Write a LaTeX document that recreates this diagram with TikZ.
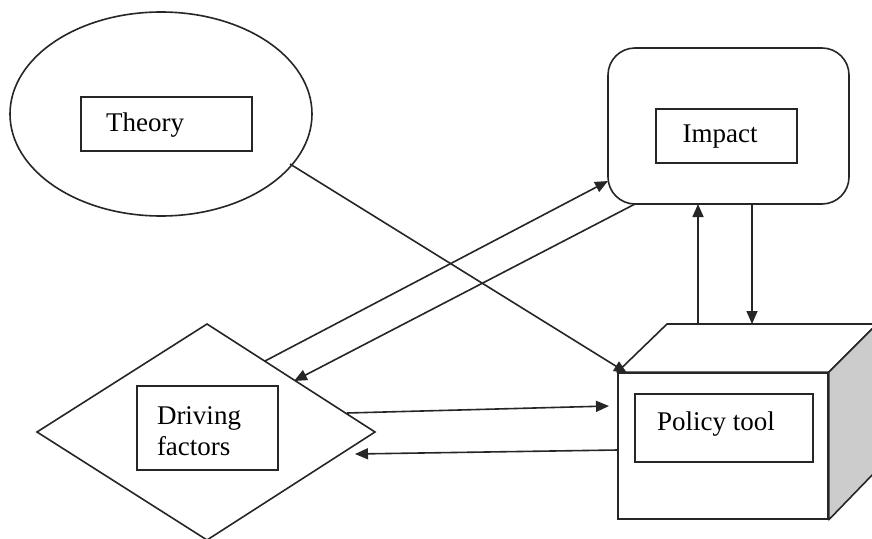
\documentclass[tikz,border=0pt]{standalone}
\usepackage{fontspec}
\setmainfont{Liberation Serif}
\usetikzlibrary{shapes.geometric,arrows.meta}
\begin{document}
\begin{tikzpicture}[x=1pt,y=-1pt,
  outline/.style={draw=black!85,line width=1.6pt,inner sep=0pt},
  ibox/.style={draw=black!85,line width=1.6pt,inner sep=0pt,fill=white},
  lbl/.style={font=\fontsize{27}{31}\selectfont,inner sep=0pt,text=black},
  conn/.style={draw=black!85,line width=1.6pt,-{Triangle[length=13pt,width=11pt]}},
  plain/.style={draw=black!85,line width=1.6pt}]
\useasboundingbox (0,0) rectangle (872,538);
\fill[white] (0,0) rectangle (872,538);
% Theory
\node[outline,ellipse,minimum width=302pt,minimum height=204pt] (theory) at (161,114) {};
\node[ibox,minimum width=171pt,minimum height=54pt] (theorybox) at (166.5,124) {};
\node[lbl,anchor=west] (theorytxt) at (106,125) {Theory};
% Impact
\node[outline,rectangle,rounded corners=27pt,minimum width=241pt,minimum height=156pt] (impact) at (728.5,126) {};
\node[ibox,minimum width=141pt,minimum height=54pt] (impactbox) at (726.5,136) {};
\node[lbl] (impacttxt) at (720,137) {Impact};
% Policy tool cube
\node[outline,rectangle,minimum width=210pt,minimum height=146pt,fill=white] (policy) at (723,446) {};
\draw[plain,fill=white,line join=round] (policy.north west) -- (667,324) coordinate (ptl) -- (877,324) coordinate (ptr) -- (policy.north east) -- cycle;
\draw[plain,fill=black!20,line join=round] (policy.north east) -- (ptr) -- (877,470) coordinate (pbr) -- (policy.south east) -- cycle;
\node[ibox,minimum width=178pt,minimum height=68pt] (policybox) at (724,428) {};
\node[lbl] (policytxt) at (716,424) {Policy tool};
% Driving factors
\draw[plain,line join=miter] (207,324) coordinate (dtop) -- (375,432) coordinate (dright) -- (207,540) coordinate (dbot) -- (37,432) coordinate (dleft) -- cycle;
\coordinate (driving) at (206,432);
\node[ibox,minimum width=141pt,minimum height=84pt] (drivingbox) at (207.5,428) {};
\node[lbl,align=left] (drivingtxt) at (199,431) {Driving\\factors};
% connector end points
\coordinate (a1s) at (290,164); \coordinate (a1e) at (627,373);
\coordinate (a2s) at (265,361); \coordinate (a2e) at (608,181);
\coordinate (a3s) at (635,204); \coordinate (a3e) at (294,381);
\coordinate (a4s) at (698,324); \coordinate (a4e) at (698,204);
\coordinate (a5s) at (752,204); \coordinate (a5e) at (752,324);
\coordinate (a6s) at (347,413); \coordinate (a6e) at (609,406);
\coordinate (a7s) at (618,450); \coordinate (a7e) at (355,454);
\draw[conn] (a1s) -- (a1e);
\draw[conn] (a2s) -- (a2e);
\draw[conn] (a3s) -- (a3e);
\draw[conn] (a4s) -- (a4e);
\draw[conn] (a5s) -- (a5e);
\draw[conn] (a6s) -- (a6e);
\draw[conn] (a7s) -- (a7e);
\end{tikzpicture}
\end{document}
